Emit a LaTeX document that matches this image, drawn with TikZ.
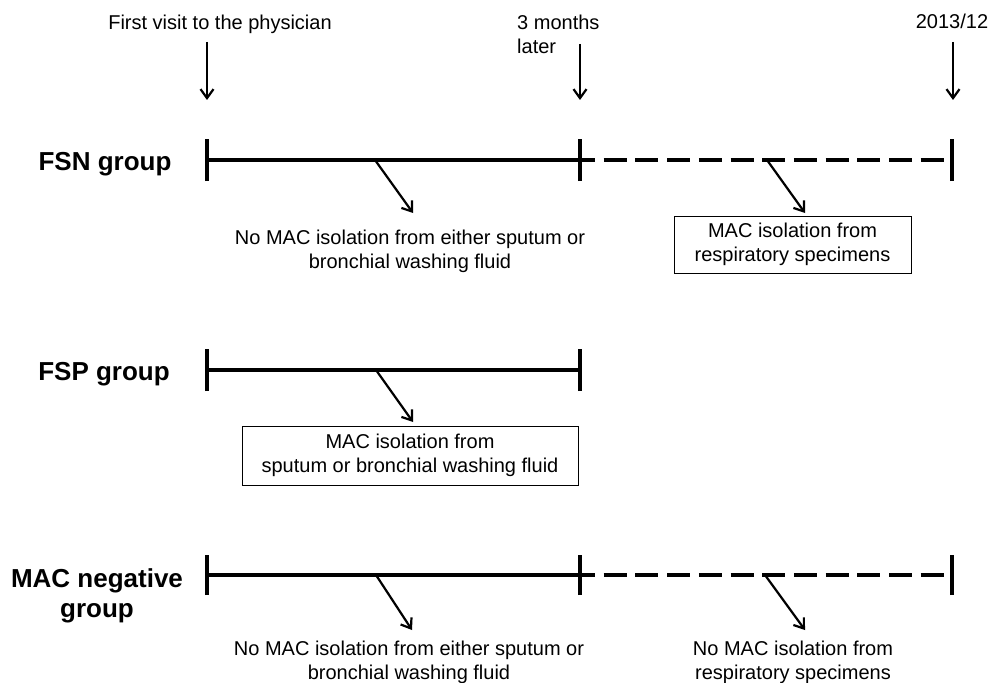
\documentclass[tikz,border=0pt]{standalone}
\usepackage{fontspec}
\setmainfont{Liberation Sans}
\usetikzlibrary{arrows.meta}
\begin{document}
\begin{tikzpicture}[x=1pt,y=-1pt,
  lbl/.style={font=\fontsize{20}{24}\selectfont, inner sep=0pt, align=center},
  grp/.style={font=\fontsize{26}{30}\selectfont\bfseries, inner sep=0pt, align=center},
  tl/.style={line width=4pt},
  tk/.style={line width=4pt},
  dsh/.style={line width=4pt, dash pattern=on 23pt off 8.7pt, dash phase=8pt},
  arr/.style={line width=2.2pt, -{Straight Barb[length=9pt,width=13pt]}},
  tbox/.style={draw, line width=0.8pt, inner sep=0pt, align=center,
    font=\fontsize{20}{24}\selectfont}
]
\useasboundingbox (0,0) rectangle (992,682);

% top labels
\node[lbl, anchor=north] (first) at (220,15) {First visit to the physician};
\node[lbl, anchor=north west, align=left] (three) at (517,15) {3 months\\later};
\node[lbl, anchor=north] (end) at (952,14) {2013/12};

\coordinate (a1s) at (207,42); \coordinate (a1e) at (207,100);
\coordinate (a2s) at (580,44); \coordinate (a2e) at (580,100);
\coordinate (a3s) at (953,42); \coordinate (a3e) at (953,100);
\draw[arr] (a1s) -- (a1e);
\draw[arr] (a2s) -- (a2e);
\draw[arr] (a3s) -- (a3e);

% group labels
\node[grp, anchor=base] (fsn) at (105,170) {FSN group};
\node[grp, anchor=base] (fsp) at (104,380) {FSP group};
\node[grp, anchor=north] (neg) at (97,568) {MAC negative\\group};

% FSN timeline
\coordinate (n0) at (207,160); \coordinate (n1) at (580,160); \coordinate (n2) at (952,160);
\draw[tl] (n0) -- (n1);
\draw[dsh] (n1) -- (n2);
\draw[tk] ([yshift=-21pt]n0) -- ([yshift=21pt]n0);
\draw[tk] ([yshift=-21pt]n1) -- ([yshift=21pt]n1);
\draw[tk] ([yshift=-21pt]n2) -- ([yshift=21pt]n2);

\node[lbl, anchor=north] (fsntxt) at (410,230) {No MAC isolation from either sputum or\\bronchial washing fluid};
\node[tbox, minimum width=237pt, minimum height=57pt] (fsnbox) at (792.5,244.5) {MAC isolation from\\respiratory specimens};
\coordinate (fa1s) at (375,160); \coordinate (fa1e) at (413,213);
\coordinate (fa2s) at (767,160); \coordinate (fa2e) at (805,213);
\draw[arr] (fa1s) -- (fa1e);
\draw[arr] (fa2s) -- (fa2e);

% FSP timeline
\coordinate (p0) at (207,370); \coordinate (p1) at (580,370);
\draw[tl] (p0) -- (p1);
\draw[tk] ([yshift=-21pt]p0) -- ([yshift=21pt]p0);
\draw[tk] ([yshift=-21pt]p1) -- ([yshift=21pt]p1);
\node[tbox, minimum width=336pt, minimum height=59pt] (fspbox) at (410,455.5) {MAC isolation from\\sputum or bronchial washing fluid};
\coordinate (pa1s) at (376,370); \coordinate (pa1e) at (413,422);
\draw[arr] (pa1s) -- (pa1e);

% MAC negative timeline
\coordinate (m0) at (207,575); \coordinate (m1) at (580,575); \coordinate (m2) at (952,575);
\draw[tl] (m0) -- (m1);
\draw[dsh] (m1) -- (m2);
\draw[tk] ([yshift=-20pt]m0) -- ([yshift=20pt]m0);
\draw[tk] ([yshift=-20pt]m1) -- ([yshift=20pt]m1);
\draw[tk] ([yshift=-20pt]m2) -- ([yshift=20pt]m2);

\node[lbl, anchor=north] (negtxt1) at (409,641) {No MAC isolation from either sputum or\\bronchial washing fluid};
\node[lbl, anchor=north] (negtxt2) at (793,641) {No MAC isolation from\\respiratory specimens};
\coordinate (ma1s) at (376,575); \coordinate (ma1e) at (412,630);
\coordinate (ma2s) at (765,575); \coordinate (ma2e) at (805,630);
\draw[arr] (ma1s) -- (ma1e);
\draw[arr] (ma2s) -- (ma2e);
\end{tikzpicture}
\end{document}
